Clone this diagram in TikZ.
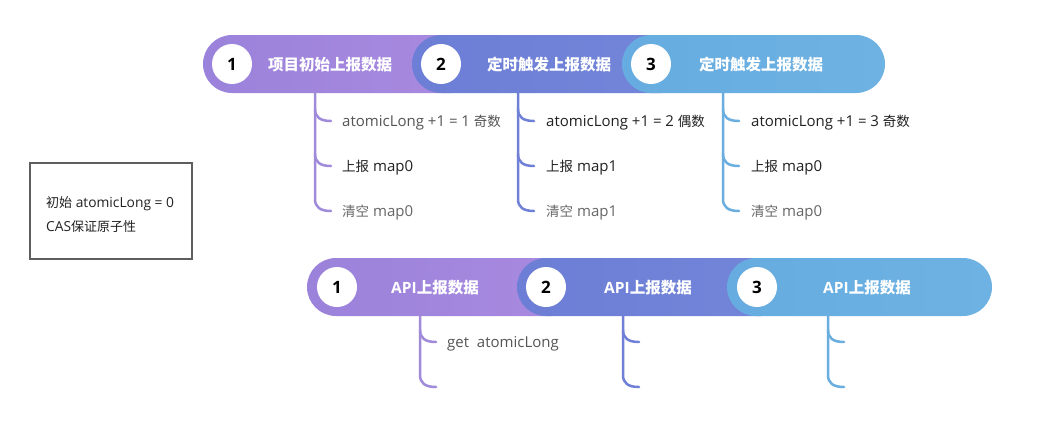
\documentclass[tikz,border=0pt]{standalone}
\usepackage{fontspec}
\setmainfont{Open Sans}
\newfontfamily\cjk{Noto Sans CJK SC}
\newcommand\zh[1]{{\cjk\fontsize{13.5}{14}\selectfont #1}}
\definecolor{pa}{HTML}{9B82DA}
\definecolor{pb}{HTML}{A98AE0}
\definecolor{qa}{HTML}{6C7ED5}
\definecolor{qb}{HTML}{7486D9}
\definecolor{ra}{HTML}{67ACE0}
\definecolor{rb}{HTML}{6DB2E2}
\definecolor{la}{HTML}{A08BDB}
\definecolor{lb}{HTML}{6F80D6}
\definecolor{lc}{HTML}{6AAEE0}
\definecolor{tg}{HTML}{555555}
\definecolor{td}{HTML}{222222}
\definecolor{tl}{HTML}{666666}
\definecolor{bx}{HTML}{5E5E5E}
\begin{document}
\begin{tikzpicture}[x=1pt,y=-1pt,
  seg/.style={rounded corners=29pt},
  num/.style={circle,fill=white,minimum size=40pt,inner sep=0pt,font=\bfseries\fontsize{17}{17}\selectfont,text=black},
  lab/.style={text=white,inner sep=0pt,font=\bfseries\fontsize{15.5}{16}\selectfont},
  item/.style={anchor=west,inner sep=0pt,font=\fontsize{15}{16}\selectfont},
  br/.style={line width=2.5pt,line cap=round}]
\useasboundingbox (0,0) rectangle (1043,421);
\fill[white] (0,0) rectangle (1043,421);

% top bar
\shade[seg,left color=pa,right color=pb] (203,35) rectangle (480,93);
\shade[seg,left color=qa,right color=qb] (412,35) rectangle (690,93);
\shade[seg,left color=ra,right color=rb] (622,35) rectangle (885,93);
\node[num] (t1) at (232,64) {1};
\node[num] (t2) at (441,64) {2};
\node[num] (t3) at (651,64) {3};
\node[lab] (tl1) at (330,65) {\cjk 项目初始上报数据};
\node[lab] (tl2) at (549,65) {\cjk 定时触发上报数据};
\node[lab] (tl3) at (761,65) {\cjk 定时触发上报数据};

% top branches
\coordinate (ta) at (315,93);
\coordinate (tb) at (518,93);
\coordinate (tc) at (723,93);
\foreach \c/\col/\x in {ta/la/315, tb/lb/518, tc/lc/723}{
  \draw[br,\col] (\c) -- (\x,199) .. controls (\x,207) and (\x+5,211) .. (\x+16,211);
  \draw[br,\col] (\x,109) .. controls (\x,117) and (\x+5,121) .. (\x+16,121);
  \draw[br,\col] (\x,154) .. controls (\x,162) and (\x+5,166) .. (\x+16,166);
}
\node[item,text=tg] (a1) at (342,123) {atomicLong +1 = 1 \zh{奇数}};
\node[item,text=td] (a2) at (342,168) {\zh{上报} map0};
\node[item,text=tl] (a3) at (342,213) {\zh{清空} map0};
\node[item,text=td] (b1) at (546,123) {atomicLong +1 = 2 \zh{偶数}};
\node[item,text=td] (b2) at (546,168) {\zh{上报} map1};
\node[item,text=tl] (b3) at (546,213) {\zh{清空} map1};
\node[item,text=td] (c1) at (751,123) {atomicLong +1 = 3 \zh{奇数}};
\node[item,text=td] (c2) at (751,168) {\zh{上报} map0};
\node[item,text=tl] (c3) at (751,213) {\zh{清空} map0};

% box
\node[draw=bx,line width=2pt,minimum width=162pt,minimum height=96pt,inner sep=0pt] (box) at (110.5,211) {};
\node[anchor=west,inner sep=0pt,align=left,text=td,font=\fontsize{13.8}{24}\selectfont] (boxt) at (46,215) {{\cjk\fontsize{13}{24}\selectfont 初始} atomicLong = 0\\CAS{\cjk\fontsize{13}{24}\selectfont 保证原子性}};

% bottom bar
\shade[seg,left color=pa,right color=pb] (307,258) rectangle (580,316);
\shade[seg,left color=qa,right color=qb] (517,258) rectangle (790,316);
\shade[seg,left color=ra,right color=rb] (727,258) rectangle (992,316);
\node[num] (u1) at (337,287) {1};
\node[num] (u2) at (546,287) {2};
\node[num] (u3) at (757,287) {3};
\node[lab] (ul1) at (435,288) {API{\cjk 上报数据}};
\node[lab] (ul2) at (648,288) {API{\cjk 上报数据}};
\node[lab] (ul3) at (867,288) {API{\cjk 上报数据}};

% bottom branches
\coordinate (ua) at (420,316);
\coordinate (ub) at (623,316);
\coordinate (uc) at (828,316);
\foreach \c/\col/\x in {ua/la/420, ub/lb/623, uc/lc/828}{
  \draw[br,\col] (\c) -- (\x,375) .. controls (\x,383) and (\x+5,387) .. (\x+16,387);
  \draw[br,\col] (\x,330) .. controls (\x,338) and (\x+5,342) .. (\x+16,342);
}
\node[item,text=tg] (d1) at (447,344) {get\ \ atomicLong};
\end{tikzpicture}
\end{document}
